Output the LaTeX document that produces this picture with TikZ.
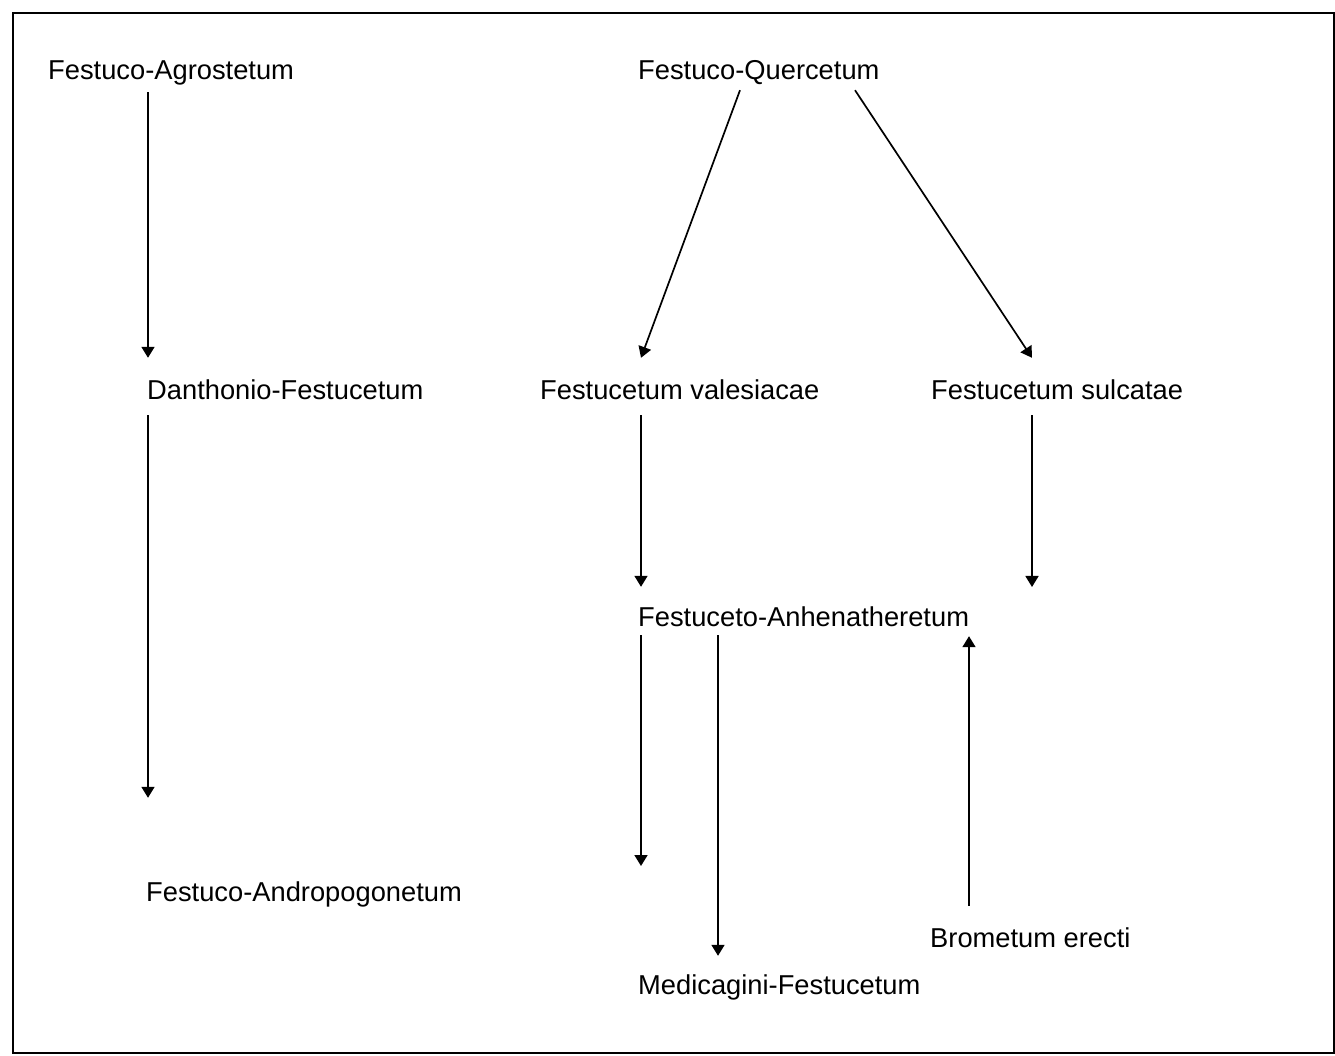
\documentclass[tikz,border=0pt]{standalone}
\usepackage{fontspec}
\setmainfont{Liberation Sans}
\usepackage{tikz}
\usetikzlibrary{arrows.meta,positioning}

\begin{document}
\begin{tikzpicture}[x=1pt,y=1pt,
  assoc/.style={anchor=base west,inner sep=0pt,text height=19pt,text depth=6pt,font=\fontsize{27.3}{32}\selectfont},
  arr/.style={line width=1.7pt,-{Triangle[width=13pt,length=11pt]}}]

\useasboundingbox (0,0) rectangle (1335,1055);

\draw[line width=2pt] (13,2) rectangle (1334,1042);

\node(fa)[assoc] at (48,975.5){Festuco-Agrostetum};

\node(fq)[assoc] at (638,975.5){Festuco-Quercetum};

\node(dan)[assoc] at (147,655.5){Danthonio-Festucetum};

\node(fv)[assoc] at (540,655.5){Festucetum valesiacae};

\node(fs)[assoc] at (931,655.5){Festucetum sulcatae};

\node(fan)[assoc] at (638,428.5){Festuceto-Anhenatheretum};

\node(fand)[assoc] at (146,153.5){Festuco-Andropogonetum};

\node(bro)[assoc] at (930,107.5){Brometum erecti};

\node(med)[assoc] at (638,60.5){Medicagini-Festucetum};

\coordinate(fsend) at (1032,468);

\coordinate(fanend) at (641,189);

\draw[arr] ([xshift=1pt,yshift=-6.5pt]dan.west |- fa.south) -- ([xshift=1pt,yshift=22.5pt]dan.north west);

\draw[arr] ([xshift=1pt,yshift=-9.5pt]dan.south west) -- ([xshift=2pt,yshift=84.5pt]fand.north west);

\draw[arr] ([xshift=102pt,yshift=-4.5pt]fq.south west) -- ([xshift=101pt,yshift=22.5pt]fv.north west);

\draw[arr] ([xshift=217pt,yshift=-4.5pt]fq.south west) -- ([xshift=101pt,yshift=22.5pt]fs.north west);

\draw[arr] ([xshift=101pt,yshift=-9.5pt]fv.south west) -- ([xshift=3pt,yshift=20.5pt]fan.north west);

\draw[arr] ([xshift=101pt,yshift=-9.5pt]fs.south west) -- (fsend);

\draw[arr] ([xshift=3pt,yshift=-2.5pt]fan.south west) -- (fanend);

\draw[arr] ([xshift=80pt,yshift=-2.5pt]fan.south west) -- ([xshift=80pt,yshift=19.5pt]med.north west);

\draw[arr] ([xshift=39pt,yshift=22.5pt]bro.north west) -- ([xshift=331pt,yshift=-3.5pt]fan.south west);

\end{tikzpicture}
\end{document}
